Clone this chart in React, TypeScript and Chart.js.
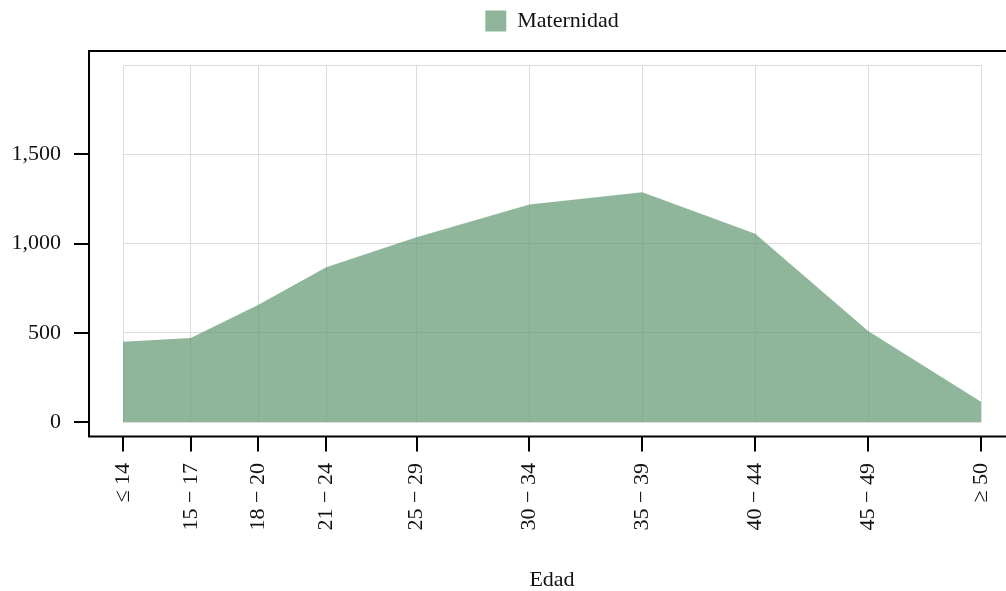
import React, { useEffect, useRef } from "react";
import { Chart, registerables } from "chart.js";

Chart.register(...registerables);

// ---- data ----
const ageGroups = ["≤ 14", "15 − 17", "18 − 20", "21 − 24", "25 − 29", "30 − 34", "35 − 39", "40 − 44", "45 − 49", "≥ 50"];
const agePositions = [14, 17, 20, 23, 27, 32, 37, 42, 47, 52];
const maternidad = [450, 470, 657, 867, 1035, 1219, 1287, 1055, 510, 114];
const yTickValues = [0, 500, 1000, 1500, 2000];
const yLabeled = [0, 500, 1000, 1500];
const seriesLabel = "Maternidad";
const xTitle = "Edad";

const FONT = "'Liberation Serif', 'Times New Roman', serif";
const TEXT = "#111111";

const framePlugin = {
  id: "offsetFrame",
  afterDraw(chart: any) {
    const ctx = chart.ctx;
    const area = chart.chartArea;
    const xs = chart.scales.x;
    const ys = chart.scales.y;
    const left = area.left - 34;
    const top = area.top - 14;
    const bottom = area.bottom + 14.5;
    const right = area.right + 34;
    ctx.save();
    ctx.strokeStyle = "#000000";
    ctx.lineWidth = 2;
    ctx.beginPath();
    ctx.moveTo(right, top);
    ctx.lineTo(left, top);
    ctx.lineTo(left, bottom);
    ctx.lineTo(right, bottom);
    ctx.stroke();
    // y tick marks
    yLabeled.forEach((v) => {
      const y = Math.round(ys.getPixelForValue(v));
      ctx.beginPath();
      ctx.moveTo(left - 15, y);
      ctx.lineTo(left, y);
      ctx.stroke();
    });
    // x tick marks
    agePositions.forEach((v) => {
      const x = Math.round(xs.getPixelForValue(v));
      ctx.beginPath();
      ctx.moveTo(x, bottom);
      ctx.lineTo(x, bottom + 15);
      ctx.stroke();
    });
    ctx.restore();
  },
};

export default function App() {
  const canvasRef = useRef<HTMLCanvasElement | null>(null);

  useEffect(() => {
    document.body.style.margin = "0";
    const canvas = canvasRef.current;
    if (!canvas) return;
    const chart = new Chart(canvas, {
      type: "line",
      data: {
        datasets: [
          {
            label: seriesLabel,
            data: agePositions.map((x, i) => ({ x, y: maternidad[i] })),
            backgroundColor: "rgba(95,151,112,0.7)",
            borderColor: "rgba(95,151,112,0.7)",
            borderWidth: 0,
            pointRadius: 0,
            fill: "origin",
            tension: 0,
          },
        ],
      },
      options: {
        responsive: false,
        animation: false,
        devicePixelRatio: 1,
        layout: { padding: { left: 0, right: 25, top: 0, bottom: 0 } },
        plugins: {
          legend: {
            display: true,
            position: "top",
            fullSize: false,
            weight: 3000,
            labels: {
              boxWidth: 21,
              boxHeight: 21,
              padding: 10,
              color: TEXT,
              font: { family: FONT, size: 22 },
            },
          } as any,
          title: {
            display: true,
            text: "",
            padding: { top: 0, bottom: 0 },
            font: { size: 23, lineHeight: 1 },
            weight: 2000,
          } as any,
          tooltip: { enabled: false },
        },
        scales: {
          x: {
            type: "linear",
            min: 14,
            max: 52,
            afterBuildTicks: (scale: any) => {
              scale.ticks = agePositions.map((v) => ({ value: v }));
            },
            afterFit: (scale: any) => {
              scale.height = 169;
            },
            grid: {
              color: "#dcdcdc",
              lineWidth: 1,
              drawTicks: true,
              tickLength: 41,
              tickColor: "rgba(0,0,0,0)",
            },
            border: { display: false },
            ticks: {
              autoSkip: false,
              maxRotation: 90,
              minRotation: 90,
              padding: 0,
              color: TEXT,
              font: { family: FONT, size: 22, lineHeight: 1 },
              callback: (_v: any, i: number) => ageGroups[i],
            },
            title: {
              display: true,
              text: xTitle,
              color: TEXT,
              font: { family: FONT, size: 22, lineHeight: 1 },
              padding: { top: 0, bottom: 0 },
            },
          },
          y: {
            type: "linear",
            min: 0,
            max: 2000,
            afterBuildTicks: (scale: any) => {
              scale.ticks = yTickValues.map((v) => ({ value: v }));
            },
            afterFit: (scale: any) => {
              scale.width = 123;
            },
            grid: {
              color: "#dcdcdc",
              lineWidth: 1,
              drawTicks: true,
              tickLength: 62,
              tickColor: "rgba(0,0,0,0)",
            },
            border: { display: false },
            ticks: {
              padding: 0,
              color: TEXT,
              font: { family: FONT, size: 22 },
              callback: (v: any) => (yLabeled.includes(Number(v)) ? Number(v).toLocaleString("en-US") : ""),
            },
          },
        },
      } as any,
      plugins: [framePlugin],
    });
    return () => chart.destroy();
  }, []);

  return (
    <div style={{ width: 1006, height: 591, position: "relative" }}>
      <canvas ref={canvasRef} width={1006} height={591} />
    </div>
  );
}
